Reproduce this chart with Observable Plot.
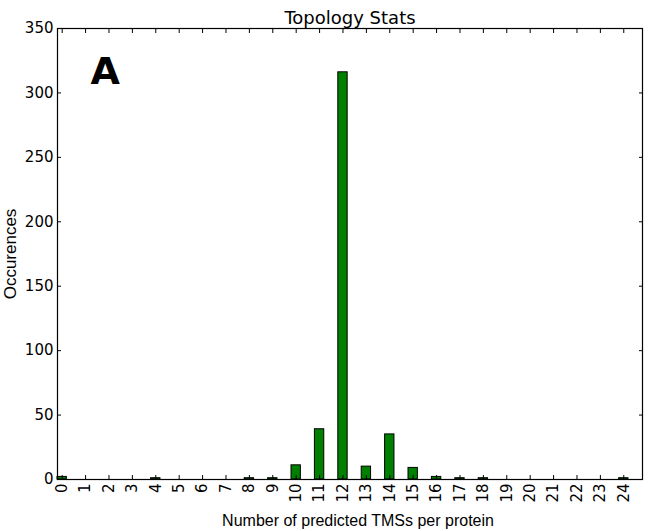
<!DOCTYPE html>
<html>
<head>
<meta charset="utf-8">
<script src="https://cdn.jsdelivr.net/npm/d3@7"></script>
<script src="https://cdn.jsdelivr.net/npm/@observablehq/plot@0.6"></script>
<style>
  body { margin: 0; background: #fff; }
  svg { font-family: "DejaVu Sans", sans-serif; }
</style>
</head>
<body>
<div id="chart"></div>
<script>
const title = "Topology Stats";
const xLabel = "Number of predicted TMSs per protein";
const yLabel = "Occurences";
const panelLetter = "A";
const tmsCounts = [0,1,2,3,4,5,6,7,8,9,10,11,12,13,14,15,16,17,18,19,20,21,22,23,24];
const occurrences = [2,0,0,0,1,0,0,0,1,1,11,39,316,10,35,9,2,1,1,0,0,0,0,0,1];
const yTicks = [0,50,100,150,200,250,300,350];

const data = tmsCounts.map((n, i) => ({n, count: occurrences[i]})).filter(d => d.count > 0);
const xTicks = tmsCounts.map(n => n + 0.2);

const chart = Plot.plot({
  width: 649,
  height: 531,
  marginLeft: 57,
  marginRight: 7,
  marginTop: 28,
  marginBottom: 52,
  style: {fontFamily: "DejaVu Sans", color: "black", background: "white"},
  x: {type: "linear", domain: [0, 25]},
  y: {domain: [0, 350]},
  marks: [
    Plot.rectY(data, {x1: d => d.n, x2: d => d.n + 0.4, y1: 0, y2: "count", fill: "#008000", stroke: "black", strokeWidth: 1}),
    Plot.frame({stroke: "black", strokeWidth: 1.2}),
    Plot.axisX({anchor: "bottom", ticks: xTicks, tickSize: -4, text: null, label: null}),
    Plot.axisX({anchor: "top", ticks: xTicks, tickSize: -4, text: null, label: null}),
    Plot.axisX({anchor: "bottom", ticks: xTicks, tickSize: 0, tickPadding: 4, tickRotate: -90, fontSize: 15, tickFormat: d => String(Math.round(d - 0.2)), label: null}),
    Plot.axisY({anchor: "left", ticks: yTicks, tickSize: -4, text: null, label: null}),
    Plot.axisY({anchor: "right", ticks: yTicks, tickSize: -4, text: null, label: null}),
    Plot.axisY({anchor: "left", ticks: yTicks, tickSize: 0, tickPadding: 4, fontSize: 15, label: null}),
    Plot.text([title], {frameAnchor: "top", lineAnchor: "bottom", dy: -5, fontSize: 18, fill: "black"}),
    Plot.text([xLabel], {frameAnchor: "bottom", lineAnchor: "bottom", dy: 46, dx: 8, fontSize: 16, fontFamily: "Liberation Sans", fill: "black"}),
    Plot.text([yLabel], {frameAnchor: "left", textAnchor: "middle", rotate: -90, dx: -47, fontSize: 17, fontFamily: "Liberation Sans", fill: "black"}),
    Plot.text([panelLetter], {frameAnchor: "top-left", textAnchor: "start", lineAnchor: "top", dx: 33, dy: 29, fontSize: 38, fontWeight: "bold", fill: "black"})
  ]
});
document.getElementById("chart").appendChild(chart);
</script>
</body>
</html>
